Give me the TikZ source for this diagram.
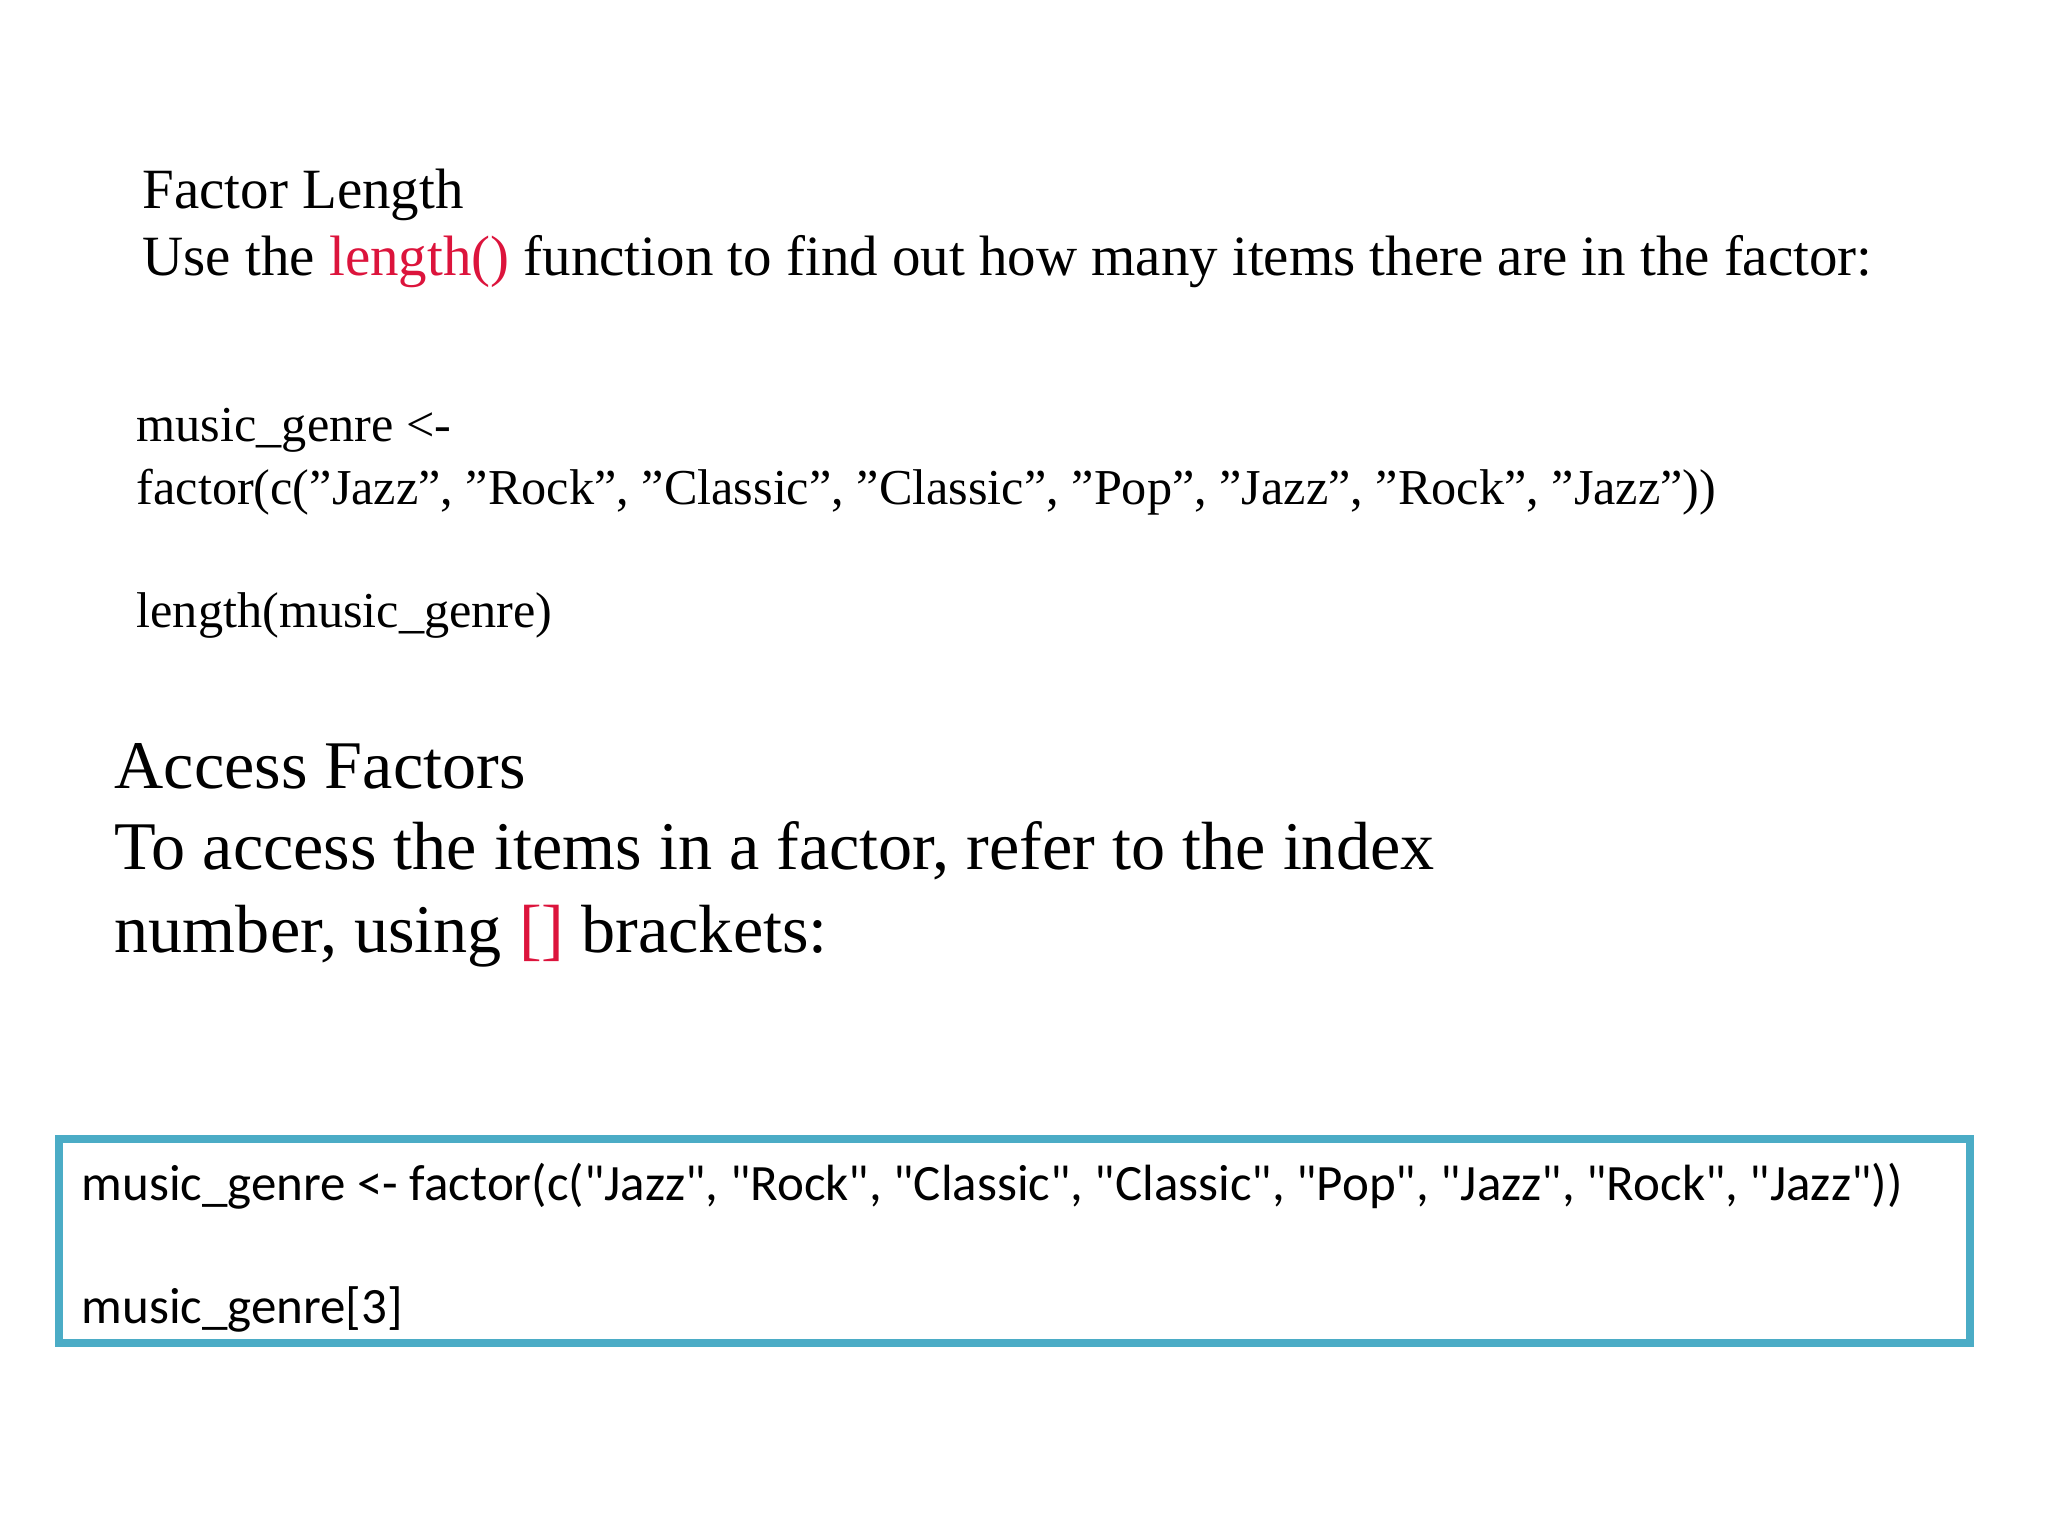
\documentclass[tikz,border=0pt]{standalone}
\usepackage{fontspec}
\setmainfont{Liberation Serif}
\newfontfamily\calib{Carlito}
\newcommand\qq{\char34\relax}
\definecolor{kw}{HTML}{DC143C}
\definecolor{boxc}{HTML}{4BACC6}
\begin{document}
\begin{tikzpicture}[every node/.style={anchor=base west,inner sep=0pt},
  t1/.style={font=\fontsize{16.2}{18}\selectfont},
  t2/.style={font=\fontsize{14.3}{16}\selectfont},
  t3/.style={font=\fontsize{19.4}{22}\selectfont},
  t4/.style={font=\calib\fontsize{14.5}{17}\selectfont}]
\useasboundingbox (0,0) rectangle (20.48,-15.36);
\node[t1] (h1) at (1.42,-2.09) {Factor Length};
\node[t1] (u1) at (1.42,-2.76) {Use the \textcolor{kw}{length()} function to find out how many items there are in the factor:};
\node[t2] (c1) at (1.36,-4.42) {music\_genre <-};
\node[t2] (c2) at (1.36,-5.05) {factor(c(\qq Jazz\qq, \qq Rock\qq, \qq Classic\qq, \qq Classic\qq, \qq Pop\qq, \qq Jazz\qq, \qq Rock\qq, \qq Jazz\qq))};
\node[t2] (c3) at (1.36,-6.28) {length(music\_genre)};
\node[t3] (h2) at (1.14,-7.89) {Access Factors};
\node[t3] (a1) at (1.14,-8.70) {To access the items in a factor, refer to the index};
\node[t3] (a2) at (1.14,-9.52) {number, using \textcolor{kw}{[]} brackets:};
\draw[boxc,line width=2pt] (0.59,-11.39) rectangle (19.70,-13.43);
\node[t4] (b1) at (0.81,-12.00) {music\_genre <- factor(c("Jazz", "Rock", "Classic", "Classic", "Pop", "Jazz", "Rock", "Jazz"))};
\node[t4] (b2) at (0.81,-13.23) {music\_genre[3]};
\end{tikzpicture}
\end{document}
